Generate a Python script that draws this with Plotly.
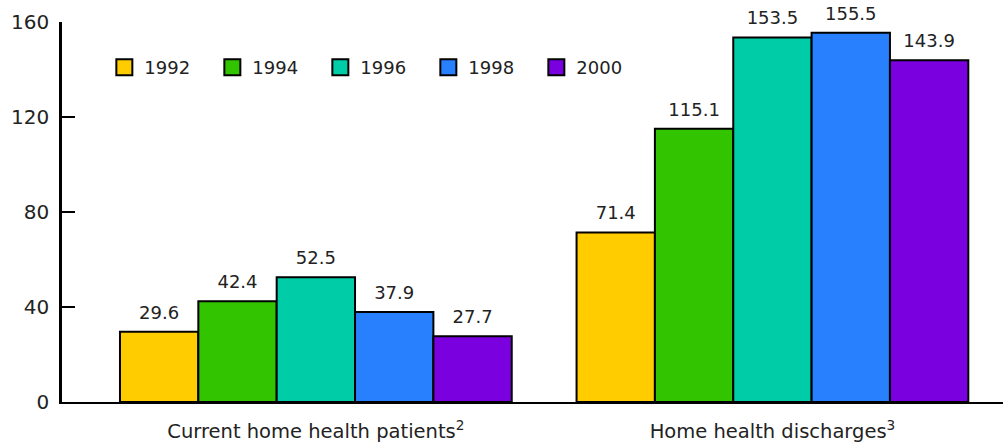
import plotly.graph_objects as go

categorias = ['Current home health patients<sup>2</sup>', 'Home health discharges<sup>3</sup>']
anios = ['1992', '1994', '1996', '1998', '2000']
valores = {
    '1992': [29.6, 71.4],
    '1994': [42.4, 115.1],
    '1996': [52.5, 153.5],
    '1998': [37.9, 155.5],
    '2000': [27.7, 143.9],
}
colores = {
    '1992': '#FFCC00',
    '1994': '#33C400',
    '1996': '#00CCA8',
    '1998': '#2880FF',
    '2000': '#7A00E0',
}
ticks_y = [0, 40, 80, 120, 160]

GAP = 0.142
fig = go.Figure()

# Barras
for anio in anios:
    fig.add_trace(go.Bar(
        x=categorias,
        y=valores[anio],
        name=anio,
        marker=dict(color=colores[anio], line=dict(color='#000000', width=2)),
        showlegend=False,
        hoverinfo='skip'
    ))

# Etiquetas de valor (scatter agrupado para alinear con las barras)
for anio in anios:
    fig.add_trace(go.Scatter(
        x=categorias,
        y=valores[anio],
        mode='markers+text',
        text=[f'{v:.1f}' for v in valores[anio]],
        textposition='top center',
        textfont=dict(size=18, color='#222222', family='DejaVu Sans'),
        marker=dict(size=12, opacity=0),
        showlegend=False,
        cliponaxis=False,
        hoverinfo='skip'
    ))

# Leyenda (en un eje aparte para no afectar el agrupamiento)
for anio in anios:
    fig.add_trace(go.Scatter(
        x=[None], y=[None],
        xaxis='x2',
        mode='markers',
        name=anio,
        marker=dict(symbol='square', size=16, color=colores[anio],
                    line=dict(color='#000000', width=2))
    ))

fig.update_layout(
    width=1003,
    height=447,
    margin=dict(l=62, r=0, t=22, b=45),
    barmode='group',
    bargap=GAP,
    bargroupgap=0,
    scattermode='group',
    scattergap=GAP,
    plot_bgcolor='#ffffff',
    paper_bgcolor='#ffffff',
    font=dict(family='DejaVu Sans', size=18, color='#222222'),
    legend=dict(
        orientation='h',
        x=0.045, y=0.88,
        xanchor='left', yanchor='middle',
        font=dict(size=18, color='#222222'),
        entrywidth=63,
        entrywidthmode='pixels',
        itemclick=False,
        bgcolor='rgba(0,0,0,0)'
    ),
    xaxis=dict(
        range=[-0.556, 1.505],
        showline=True,
        linecolor='#000000',
        linewidth=2,
        ticks='',
        showgrid=False,
        tickfont=dict(family='DejaVu Sans', size=19.5, color='#222222'),
        ticklabelstandoff=11
    ),
    xaxis2=dict(overlaying='x', visible=False, range=[0, 1]),
    yaxis=dict(
        range=[0, 160],
        tickvals=ticks_y,
        showline=True,
        linecolor='#000000',
        linewidth=2.5,
        ticks='inside',
        ticklen=13,
        tickwidth=2,
        tickcolor='#000000',
        showgrid=False,
        zeroline=False,
        tickfont=dict(size=20, color='#222222'),
        ticklabelstandoff=6
    )
)

fig.write_html('out.html', config={'displayModeBar': False},
               post_script="document.body.style.margin='0';")
